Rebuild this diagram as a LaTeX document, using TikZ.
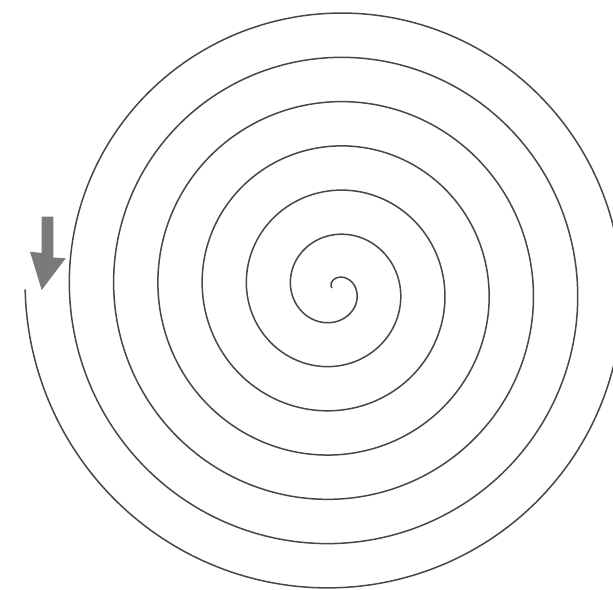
\documentclass[tikz,border=0pt]{standalone}
\begin{document}
\begin{tikzpicture}[x=1pt,y=-1pt,
  spiralline/.style={draw=black!72,line width=1.5pt,line join=round},
  bigarrow/.style={fill=black!52,draw=none}]
\useasboundingbox (0,0) rectangle (613,589);
\clip (0,0) rectangle (613,589);
\fill[white] (0,0) rectangle (613,589);
% Archimedean spiral, centre (334.6,289.4), pitch 44.3 per turn
\draw[spiralline] plot[domain=180:2671,samples=900,smooth,variable=\t]
  ({334.6+(309.5-0.123056*(\t-180))*cos(\t)},
   {289.4-(309.5-0.123056*(\t-180))*sin(\t)});
% direction arrow
\coordinate (st) at (41.7,216.7);
\fill[bigarrow] (st) -- (53.3,216.7) -- (53.3,257.5) -- (65.7,258.3)
  -- (41.7,290) -- (30,251.7) -- (41.7,253) -- cycle;
\end{tikzpicture}
\end{document}
